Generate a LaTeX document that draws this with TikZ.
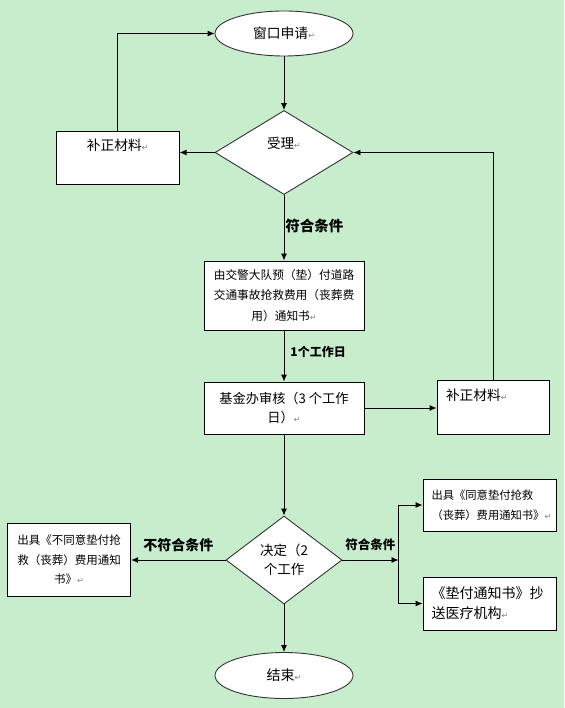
\documentclass[tikz,border=0pt]{standalone}
\usepackage{fontspec}
\setmainfont{Noto Sans CJK SC}
\newfontfamily\markfont{DejaVu Sans}
\usetikzlibrary{shapes.geometric, arrows.meta}
\definecolor{eyegreen}{RGB}{199,237,204}
\newcommand{\fs}[2]{\fontsize{#1}{#2}\selectfont}
\newcommand{\pmark}{{\markfont\fs{8}{8}\color{gray}↵}}

\begin{document}
\begin{tikzpicture}[x=1pt, y=-1pt, >={Latex[length=7pt,width=6pt]}, line width=0.9pt,
	term/.style={ellipse, draw=black!80, fill=white, minimum width=138pt, minimum height=45pt, inner sep=0pt},
	choice/.style={diamond, draw=black!80, fill=white, inner sep=0pt, aspect=1.5},
	procbox/.style={rectangle, draw=black, fill=white, inner sep=0pt, align=center},
	cond/.style={font=\bfseries\fs{12}{14}, inner sep=0pt}]

		\useasboundingbox (0,0) rectangle (564,708);
		\fill[eyegreen] (0,0) rectangle (564,708);

		\node[term, font=\fs{13.8}{16}](apply) at (284,33.5) {窗口申请\pmark};
		\node[choice, minimum width=138pt, minimum height=84pt, font=\fs{13.5}{16}, text height=12pt, text depth=20pt](accept) at (284,152.5) {受理\pmark};
		\node[procbox, minimum width=123pt, minimum height=53pt, font=\fs{13.7}{16}, text height=12pt, text depth=25pt](leftfix) at (117.7,157.5) {补正材料\pmark};

		\node[procbox, minimum width=160pt, minimum height=69pt, font=\fs{11.7}{20.5}](notice) at (284,295.5) {由交警大队预（垫）付道路\\交通事故抢救费用（丧葬费\\用）通知书\pmark};
		\node[procbox, minimum width=160pt, minimum height=52pt, font=\fs{13.2}{18.7}](review) at (284,408) {基金办审核（3 个工作\\日）\pmark};
		\node[procbox, align=left, text width=94pt, inner xsep=9pt, minimum height=54pt, font=\fs{13.7}{16}, text height=12pt, text depth=25pt](rightfix) at (493,407) {补正材料\pmark};

		\node[choice, minimum width=116pt, minimum height=88pt, align=center, font=\fs{13.5}{19}](decide) at (284,560) {决定（2\\个工作};
		\node[procbox, minimum width=123.4pt, minimum height=73.4pt, font=\fs{11.5}{19.5}](refuse) at (69,560) {出具《不同意垫付抢\\救（丧葬）费用通知\\书》\pmark};
		\node[procbox, align=left, text width=116pt, inner xsep=8.5pt, minimum height=52pt, font=\fs{11.3}{20}](agree) at (489.5,505) {出具《同意垫付抢救\\（丧葬）费用通知书》\pmark};
		\node[procbox, align=left, text width=116pt, inner xsep=8.5pt, minimum height=53pt, font=\fs{14}{20}](copy) at (489.5,603.5) {《垫付通知书》抄\\送医疗机构\pmark};
		\node[term, minimum height=46pt, font=\fs{14}{16}](finish) at (284,675.5) {结束\pmark};

		\coordinate (fork) at (398.5,560);

		\draw[->](apply) -- (accept);
		\draw[->](accept.west) -- (accept.west -| leftfix.east);
		\draw[->](leftfix.north) |- (apply.west);
		\draw[->](accept) -- node[cond, font=\bfseries\fs{14.5}{16}, anchor=west, pos=0.47, xshift=1pt] {符合条件} (notice);
		\draw[->](notice) -- node[cond, anchor=west, pos=0.42, xshift=6pt] {1个工作日} (review);
		\draw[->](review.east) -- (review.east -| rightfix.west);
		\draw[->](rightfix.north) |- (accept.east);

		\draw[->](review) -- (decide);
		\draw[->](decide.west) -- node[cond, font=\bfseries\fs{14}{16}, yshift=15pt] {不符合条件} (decide.west -| refuse.east);
		\draw[->](decide.east) -- node[cond, font=\bfseries\fs{12.5}{14}, yshift=15pt] {符合条件} (fork);
		\draw[->](fork) |- (agree.west);
		\draw[->](fork) |- (copy.west);
		\draw[->](decide) -- (finish);
	\end{tikzpicture}
\end{document}
